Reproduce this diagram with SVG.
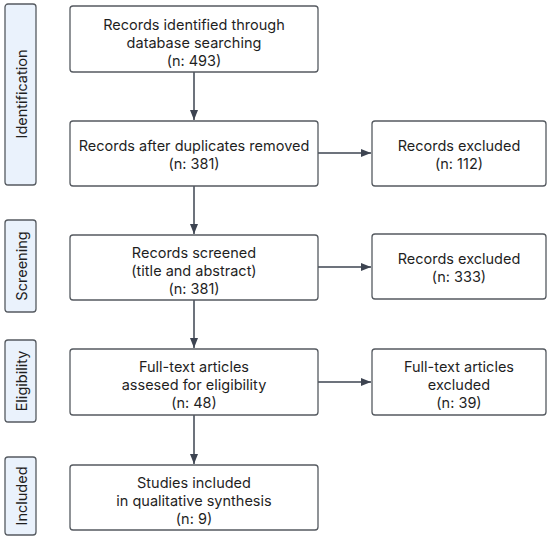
<svg xmlns="http://www.w3.org/2000/svg" width="550" height="540" viewBox="0 0 550 540">
<defs>
<marker id="ah" viewBox="0 0 10 10" refX="10" refY="5" markerWidth="10" markerHeight="10" markerUnits="userSpaceOnUse" orient="auto">
<path d="M0,1 L10,5 L0,9 z" fill="#3d4451"/>
</marker>
<style>
.box{fill:#fff;stroke:#555a60;stroke-width:1.3}
.side{fill:#eaf2fc;stroke:#555a60;stroke-width:1.3}
text{font-family:Inter,"Noto Sans",sans-serif;font-size:14.5px;fill:#1f1f1f;text-anchor:middle;dominant-baseline:central}
.conn{stroke:#3d4451;stroke-width:1.5;fill:none;marker-end:url(#ah)}
</style>
</defs>
<rect width="550" height="540" fill="#fff"/>
<g id="side-identification"><rect class="side" x="5" y="4" width="31" height="181" rx="3"/><text transform="translate(21,94) rotate(-90)">Identification</text></g>
<g id="side-screening"><rect class="side" x="5" y="220" width="31" height="92" rx="3"/><text transform="translate(21,266) rotate(-90)">Screening</text></g>
<g id="side-eligibility"><rect class="side" x="5" y="340" width="31" height="82" rx="3"/><text transform="translate(21,381) rotate(-90)">Eligibility</text></g>
<g id="side-included"><rect class="side" x="5" y="457" width="31" height="78" rx="3"/><text transform="translate(21,496) rotate(-90)">Included</text></g>
<g id="connectors">
<line class="conn" x1="194" y1="72" x2="194" y2="120"/>
<line class="conn" x1="194" y1="186" x2="194" y2="234"/>
<line class="conn" x1="194" y1="300" x2="194" y2="348"/>
<line class="conn" x1="194" y1="415" x2="194" y2="464"/>
<line class="conn" x1="318" y1="153" x2="371" y2="153"/>
<line class="conn" x1="318" y1="267" x2="371" y2="267"/>
<line class="conn" x1="318" y1="382" x2="371" y2="382"/>
</g>
<g id="n1"><rect class="box" x="70" y="6" width="248" height="66" rx="3"/><text x="194" y="24">Records identified through</text><text x="194" y="42">database searching</text><text x="194" y="60">(n: 493)</text></g>
<g id="n2"><rect class="box" x="70" y="121" width="248" height="65" rx="3"/><text x="194" y="145">Records after duplicates removed</text><text x="194" y="163">(n: 381)</text></g>
<g id="n3"><rect class="box" x="70" y="235" width="248" height="65" rx="3"/><text x="194" y="252">Records screened</text><text x="194" y="270">(title and abstract)</text><text x="194" y="288">(n: 381)</text></g>
<g id="n4"><rect class="box" x="70" y="349" width="248" height="66" rx="3"/><text x="194" y="366">Full-text articles</text><text x="194" y="384">assesed for eligibility</text><text x="194" y="402">(n: 48)</text></g>
<g id="n5"><rect class="box" x="70" y="465" width="248" height="65" rx="3"/><text x="194" y="482">Studies included</text><text x="194" y="500">in qualitative synthesis</text><text x="194" y="518">(n: 9)</text></g>
<g id="r1"><rect class="box" x="372" y="121" width="174" height="65" rx="3"/><text x="459" y="145">Records excluded</text><text x="459" y="163">(n: 112)</text></g>
<g id="r2"><rect class="box" x="372" y="234" width="174" height="65" rx="3"/><text x="459" y="258">Records excluded</text><text x="459" y="276">(n: 333)</text></g>
<g id="r3"><rect class="box" x="372" y="349" width="174" height="66" rx="3"/><text x="459" y="366">Full-text articles</text><text x="459" y="384">excluded</text><text x="459" y="402">(n: 39)</text></g>
</svg>
